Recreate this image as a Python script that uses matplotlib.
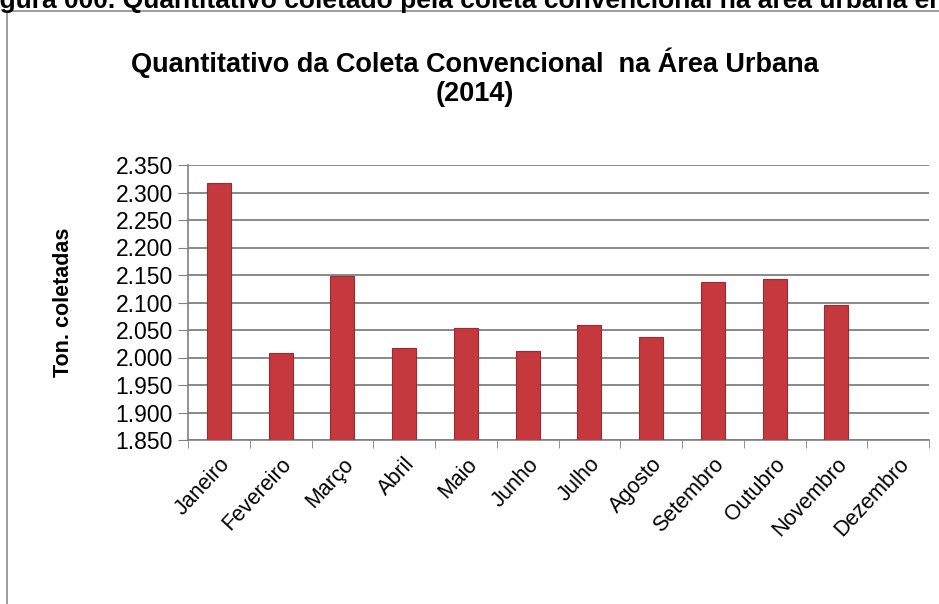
import numpy as np
import matplotlib.pyplot as plt
from matplotlib.patches import Rectangle

# dados
meses = ['Janeiro', 'Fevereiro', 'Março', 'Abril', 'Maio', 'Junho',
         'Julho', 'Agosto', 'Setembro', 'Outubro', 'Novembro', 'Dezembro']
toneladas = [2.318, 2.008, 2.148, 2.017, 2.054, 2.012,
             2.060, 2.037, 2.137, 2.143, 2.095, np.nan]
yticks = [1.850, 1.900, 1.950, 2.000, 2.050, 2.100, 2.150, 2.200, 2.250, 2.300, 2.350]
ytick_labels = ['%.3f' % v for v in yticks]

plt.rcParams['font.family'] = ['Liberation Sans', 'DejaVu Sans']

fig = plt.figure(figsize=(9.39, 6.04), dpi=100)

# legenda da figura cortada no topo (como no original)
fig.text(-0.026, 1 - 8 / 604, 'Figura 000. Quantitativo coletado pela coleta convencional na área urbana em 2014',
         fontsize=19, fontweight='bold', ha='left', va='baseline')

# borda da area do grafico
fig.patches.append(Rectangle((7 / 939, -0.1), 1.2, 1 - 11 / 604 + 0.1,
                             transform=fig.transFigure, fill=False,
                             edgecolor='#8c8c8c', lw=1.2))

ax = fig.add_axes([188 / 939, 1 - 440 / 604, 741 / 939, 275 / 604])
x = np.arange(len(meses))
ax.bar(x, toneladas, width=0.39, color='#C5383E', edgecolor='#9E2A2F', lw=0.8, zorder=3)

ax.set_ylim(1.850, 2.350)
ax.set_xlim(-0.5, len(meses) - 0.5)
ax.set_yticks(yticks)
ax.set_yticklabels(ytick_labels, fontsize=16.5)
ax.set_xticks(x)
ax.set_xticklabels(meses, rotation=47, ha='right', rotation_mode='anchor', fontsize=15.5)
ax.tick_params(axis='x', length=0, pad=10)
ax.set_xticks(np.arange(len(meses) + 1) - 0.5, minor=True)
ax.tick_params(axis='x', which='minor', length=6, color='#808080', direction='out')
ax.tick_params(axis='y', length=7, color='#808080', direction='out', pad=4)

ax.grid(axis='y', color='#808080', lw=1.3, zorder=0)
for s in ['top', 'right']:
    ax.spines[s].set_visible(False)
for s in ['left', 'bottom']:
    ax.spines[s].set_color('#808080')
    ax.spines[s].set_linewidth(1.2)

ax.set_ylabel('Ton. coletadas', fontsize=15.5, fontweight='bold', labelpad=30)

fig.text(475 / 939, 1 - 77 / 604, 'Quantitativo da Coleta Convencional  na Área Urbana\n(2014)',
         fontsize=19.5, fontweight='bold', ha='center', va='center', linespacing=1.15)

fig.savefig('out.png', dpi=100)
